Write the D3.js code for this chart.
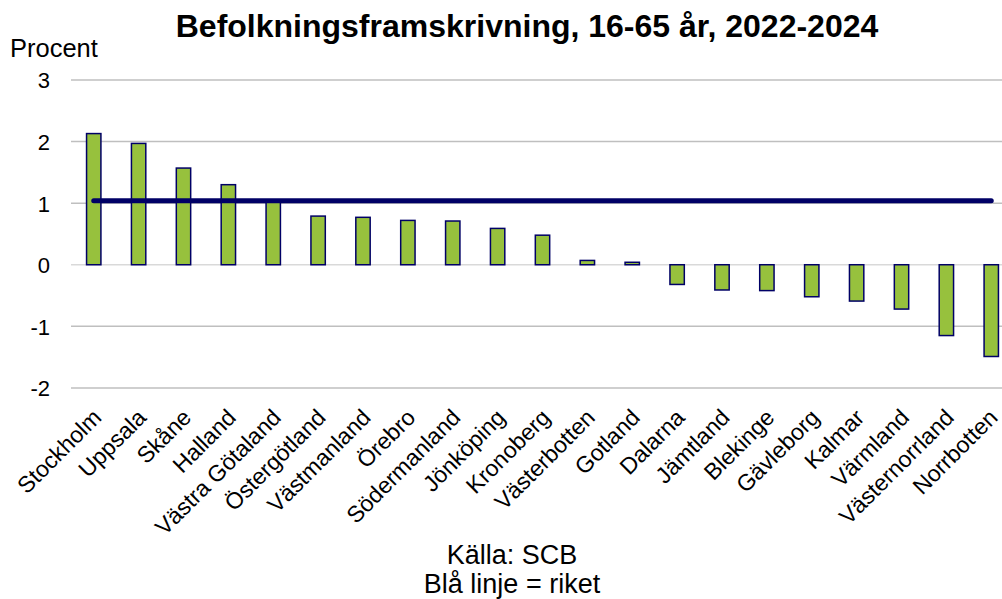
<!DOCTYPE html>
<html>
<head>
<meta charset="utf-8">
<script src="https://cdn.jsdelivr.net/npm/d3@7"></script>
<style>
  html, body { margin: 0; padding: 0; background: #fff; }
  svg { display: block; font-family: "Liberation Sans", Arial, sans-serif; }
</style>
</head>
<body>
<svg id="chart" width="1002" height="599"></svg>
<script>
const categories = ["Stockholm","Uppsala","Skåne","Halland","Västra Götaland","Östergötland","Västmanland","Örebro","Södermanland","Jönköping","Kronoberg","Västerbotten","Gotland","Dalarna","Jämtland","Blekinge","Gävleborg","Kalmar","Värmland","Västernorrland","Norrbotten"];
const values = [2.13,1.97,1.57,1.30,1.03,0.79,0.77,0.72,0.71,0.59,0.48,0.07,0.04,-0.32,-0.41,-0.42,-0.52,-0.59,-0.72,-1.15,-1.49];
const riket = 1.04;
const yTicks = [3,2,1,0,-1,-2];
const title = "Befolkningsframskrivning, 16-65 år, 2022-2024";
const yLabel = "Procent";
const footer = ["Källa: SCB", "Blå linje = riket"];

const svg = d3.select("#chart");
const x = d3.scaleBand().domain(categories).range([71.3, 1013.7]).paddingInner(0.68).paddingOuter(0.34);
const y = d3.scaleLinear().domain([-2, 3]).range([387.9, 80]);

// gridlines
svg.append("g").selectAll("line").data(yTicks).join("line")
  .attr("x1", 71).attr("x2", 1002)
  .attr("y1", d => y(d)).attr("y2", d => y(d))
  .attr("stroke", d => d === 0 ? "#d9d9d9" : "#bfbfbf").attr("stroke-width", 1.5);

// y axis labels
const yAxis = d3.axisLeft(y).tickValues(yTicks).tickSize(0).tickPadding(0).tickFormat(d => String(d));
const ya = svg.append("g").attr("transform", "translate(50,0)").call(yAxis);
ya.select(".domain").remove();
ya.selectAll("text").attr("font-size", 22).attr("fill", "#000").attr("dy", "0.36em")
  .attr("font-family", "Liberation Sans, Arial, sans-serif");

// bars
svg.append("g").selectAll("rect").data(values).join("rect")
  .attr("x", (d, i) => x(categories[i]))
  .attr("width", x.bandwidth())
  .attr("y", d => y(Math.max(0, d)))
  .attr("height", d => Math.abs(y(d) - y(0)))
  .attr("fill", "#97c13d").attr("stroke", "#000066").attr("stroke-width", 1.5);

// riket line
const cx = c => x(c) + x.bandwidth() / 2;
svg.append("line")
  .attr("x1", cx(categories[0])).attr("x2", cx(categories[categories.length - 1]))
  .attr("y1", y(riket)).attr("y2", y(riket))
  .attr("stroke", "#000066").attr("stroke-width", 5).attr("stroke-linecap", "round");

// category labels
svg.append("g").selectAll("text").data(categories).join("text")
  .attr("transform", d => `translate(${Math.min(cx(d) + 9, 999)},${419}) rotate(-45)`)
  .attr("text-anchor", "end")
  .attr("font-size", 23)
  .text(d => d);

// title
svg.append("text").attr("x", 527).attr("y", 37).attr("text-anchor", "middle")
  .attr("font-size", 32).attr("font-weight", "bold").text(title);

svg.append("text").attr("x", 10).attr("y", 57).attr("font-size", 25.5).text(yLabel);

svg.append("g").selectAll("text").data(footer).join("text")
  .attr("x", 512).attr("y", (d, i) => 564 + i * 29)
  .attr("text-anchor", "middle").attr("font-size", 27).text(d => d);
</script>
</body>
</html>
